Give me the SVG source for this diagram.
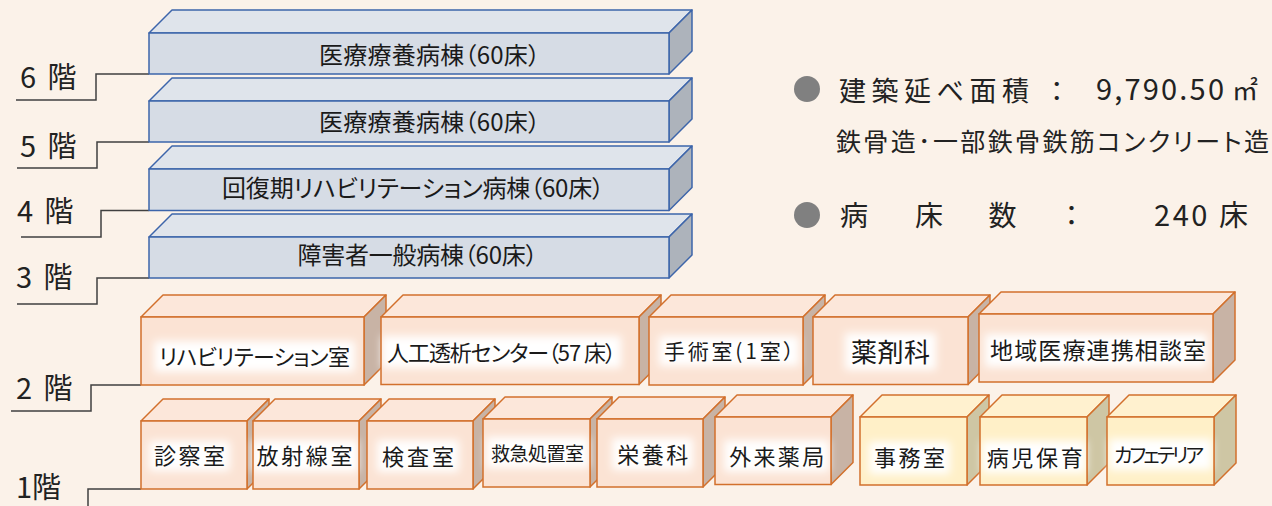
<svg xmlns="http://www.w3.org/2000/svg" width="1272" height="506" viewBox="0 0 1272 506">
<defs>
<filter id="glow" x="-40%" y="-80%" width="180%" height="260%"><feGaussianBlur stdDeviation="4"/></filter>
<style>
text{font-family:"Noto Sans CJK JP","Noto Sans",sans-serif;fill:#1a1a1a;font-feature-settings:"palt" 1;}
.lbl{text-anchor:middle;}
.bface{stroke:#3D65AA;stroke-width:1.5;stroke-linejoin:round;}
.bfront{fill:#D6DCE5;}
.btop{fill:#DFE4EB;}
.bside{fill:#ADB3BB;}
.oface{stroke:#D2702C;stroke-width:1.5;stroke-linejoin:round;}
.ofront{fill:#FBE3D4;}
.otop{fill:#FCE7DA;}
.oside{fill:#C8B3A5;}
.yfront{fill:#FFF0C8;}
.ytop{fill:#FFF1CF;}
.yside{fill:#CEC6A4;}
.outline{fill:none;stroke:#D2702C;stroke-width:1.5;}
.glow{fill:#FFFFFF;filter:url(#glow);}
.lead{fill:none;stroke:#404040;stroke-width:1.5;}
.floor{font-size:29px;fill:#222;word-spacing:5px;}
.info{fill:#222;}
.dot{fill:#808080;}
</style>
</defs>
<rect width="1272" height="506" fill="#FBF2E9"/>

<g id="connectors">
<polyline class="lead" points="16,100 96,100 96,74 149,74"/>
<polyline class="lead" points="17,168 97,168 97,142 149,142"/>
<polyline class="lead" points="21,237 101,237 101,210.5 149,210.5"/>
<polyline class="lead" points="17,304 97,304 97,278 149,278"/>
<polyline class="lead" points="11,411 91,411 91,385 141,385"/>
<polyline class="lead" points="88,510 88,489 141,489"/>
</g>

<g id="floor-labels">
<text class="floor" x="20" y="88">6 階</text>
<text class="floor" x="20" y="157">5 階</text>
<text class="floor" x="17" y="222">4 階</text>
<text class="floor" x="16" y="288">3 階</text>
<text class="floor" x="16" y="399">2 階</text>
<text class="floor" x="16" y="498">1階</text>
</g>

<g id="f6">
<polygon class="bface btop" points="149,33 172,10 692,10 669,33"/>
<polygon class="bface bside" points="669,33 692,10 692,51 669,74"/>
<rect class="bface bfront" x="149" y="33" width="520" height="41"/>
<text class="lbl" x="429.5" y="63.5" font-size="24" textLength="221">医療療養病棟（60床）</text>
</g>
<g id="f5">
<polygon class="bface btop" points="149,101 172,78 692,78 669,101"/>
<polygon class="bface bside" points="669,101 692,78 692,119 669,142"/>
<rect class="bface bfront" x="149" y="101" width="520" height="41"/>
<text class="lbl" x="429.5" y="131" font-size="24" textLength="221">医療療養病棟（60床）</text>
</g>
<g id="f4">
<polygon class="bface btop" points="149,169 172,146 692,146 669,169"/>
<polygon class="bface bside" points="669,169 692,146 692,187.5 669,210.5"/>
<rect class="bface bfront" x="149" y="169" width="520" height="41.5"/>
<text class="lbl" x="413" y="196.5" font-size="24" textLength="382">回復期リハビリテーション病棟（60床）</text>
</g>
<g id="f3">
<polygon class="bface btop" points="149,237 172,214 692,214 669,237"/>
<polygon class="bface bside" points="669,237 692,214 692,255 669,278"/>
<rect class="bface bfront" x="149" y="237" width="520" height="41"/>
<text class="lbl" x="417.5" y="263.5" font-size="24" textLength="240">障害者一般病棟（60床）</text>
</g>

<g id="rehab">
<polygon class="oface otop" points="141,317 163,295 386,295 364,317"/>
<polygon class="oface oside" points="364,317 386,295 386,363 364,385"/>
<rect class="ofront" x="141" y="317" width="223" height="68"/>
<rect class="glow" x="154" y="341" width="201" height="31"/>
<rect class="outline" x="141" y="317" width="223" height="68"/>
<text class="lbl" x="254.5" y="364.5" font-size="22" textLength="191">リハビリテーション室</text>
</g>
<g id="dialysis">
<polygon class="oface otop" points="381,317 403,295 661,295 639,317"/>
<polygon class="oface oside" points="639,317 661,295 661,362.5 639,384.5"/>
<rect class="ofront" x="381" y="317" width="258" height="67.5"/>
<rect class="glow" x="382" y="336" width="239" height="32"/>
<rect class="outline" x="381" y="317" width="258" height="67.5"/>
<text class="lbl" x="501.5" y="360.5" font-size="22" textLength="229">人工透析センター（57 床）</text>
</g>
<g id="surgery">
<polygon class="oface otop" points="649,317 671,295 825,295 803,317"/>
<polygon class="oface oside" points="803,317 825,295 825,363 803,385"/>
<rect class="ofront" x="649" y="317" width="154" height="68"/>
<rect class="glow" x="659" y="336" width="140" height="30"/>
<rect class="outline" x="649" y="317" width="154" height="68"/>
<text class="lbl" x="729" y="358.5" font-size="21" textLength="130">手術室(1室）</text>
</g>
<g id="pharmacy">
<polygon class="oface otop" points="813,317 835,295 990,295 968,317"/>
<polygon class="oface oside" points="968,317 990,295 990,362.5 968,384.5"/>
<rect class="ofront" x="813" y="317" width="155" height="67.5"/>
<rect class="glow" x="845" y="333" width="91" height="37"/>
<rect class="outline" x="813" y="317" width="155" height="67.5"/>
<text class="lbl" x="890.5" y="361.5" font-size="26" textLength="79">薬剤科</text>
</g>
<g id="community">
<polygon class="oface otop" points="979,314 1001,292 1235,292 1213,314"/>
<polygon class="oface oside" points="1213,314 1235,292 1235,360 1213,382"/>
<rect class="ofront" x="979" y="314" width="234" height="68"/>
<rect class="glow" x="985" y="334" width="222" height="33"/>
<rect class="outline" x="979" y="314" width="234" height="68"/>
<text class="lbl" x="1098" y="359" font-size="23" textLength="216">地域医療連携相談室</text>
</g>

<g id="consult">
<polygon class="oface otop" points="141,421 163,399 269,399 247,421"/>
<polygon class="oface oside" points="247,421 269,399 269,467 247,489"/>
<rect class="ofront" x="141" y="421" width="106" height="68"/>
<rect class="glow" x="149" y="441" width="81" height="30"/>
<rect class="outline" x="141" y="421" width="106" height="68"/>
<text class="lbl" x="189.5" y="463.5" font-size="22" textLength="71">診察室</text>
</g>
<g id="radiology">
<polygon class="oface otop" points="253,421 275,399 381,399 359,421"/>
<polygon class="oface oside" points="359,421 381,399 381,467 359,489"/>
<rect class="ofront" x="253" y="421" width="106" height="68"/>
<rect class="glow" x="252" y="440" width="106" height="32"/>
<rect class="outline" x="253" y="421" width="106" height="68"/>
<text class="lbl" x="304.5" y="464" font-size="22" textLength="96">放射線室</text>
</g>
<g id="lab">
<polygon class="oface otop" points="367,421 389,399 495,399 473,421"/>
<polygon class="oface oside" points="473,421 495,399 495,467 473,489"/>
<rect class="ofront" x="367" y="421" width="106" height="68"/>
<rect class="glow" x="377" y="440" width="82" height="32"/>
<rect class="outline" x="367" y="421" width="106" height="68"/>
<text class="lbl" x="418" y="464.5" font-size="22" textLength="72">検査室</text>
</g>
<g id="emergency">
<polygon class="oface otop" points="483,419 505,397 612,397 590,419"/>
<polygon class="oface oside" points="590,419 612,397 612,465 590,487"/>
<rect class="ofront" x="483" y="419" width="107" height="68"/>
<rect class="glow" x="486" y="437" width="103" height="31"/>
<rect class="outline" x="483" y="419" width="107" height="68"/>
<text class="lbl" x="537.5" y="460.5" font-size="19" textLength="93">救急処置室</text>
</g>
<g id="nutrition">
<polygon class="oface otop" points="597,419 619,397 725,397 703,419"/>
<polygon class="oface oside" points="703,419 725,397 725,465 703,487"/>
<rect class="ofront" x="597" y="419" width="106" height="68"/>
<rect class="glow" x="612" y="438" width="81" height="32"/>
<rect class="outline" x="597" y="419" width="106" height="68"/>
<text class="lbl" x="652.7" y="462.5" font-size="22" textLength="71">栄養科</text>
</g>
<g id="outpatient-pharmacy">
<polygon class="oface otop" points="715,417 737,395 853,395 831,417"/>
<polygon class="oface oside" points="831,417 853,395 853,462.5 831,484.5"/>
<rect class="ofront" x="715" y="417" width="116" height="67.5"/>
<rect class="glow" x="724" y="440" width="105" height="32"/>
<rect class="outline" x="715" y="417" width="116" height="67.5"/>
<text class="lbl" x="776.7" y="464.5" font-size="22" textLength="95">外来薬局</text>
</g>
<g id="office">
<polygon class="oface ytop" points="860,417 882,395 989,395 967,417"/>
<polygon class="oface yside" points="967,417 989,395 989,463 967,485"/>
<rect class="yfront" x="860" y="417" width="107" height="68"/>
<rect class="glow" x="869" y="442" width="81" height="32"/>
<rect class="outline" x="860" y="417" width="107" height="68"/>
<text class="lbl" x="909.5" y="466" font-size="22" textLength="71">事務室</text>
</g>
<g id="sick-child-care">
<polygon class="oface ytop" points="980,417 1002,395 1109,395 1087,417"/>
<polygon class="oface yside" points="1087,417 1109,395 1109,463 1087,485"/>
<rect class="yfront" x="980" y="417" width="107" height="68"/>
<rect class="glow" x="982" y="441" width="104" height="32"/>
<rect class="outline" x="980" y="417" width="107" height="68"/>
<text class="lbl" x="1034.7" y="466" font-size="22" textLength="96">病児保育</text>
</g>
<g id="cafeteria">
<polygon class="oface ytop" points="1107,417 1129,395 1236,395 1214,417"/>
<polygon class="oface yside" points="1214,417 1236,395 1236,463 1214,485"/>
<rect class="yfront" x="1107" y="417" width="107" height="68"/>
<rect class="glow" x="1109" y="439" width="103" height="31"/>
<rect class="outline" x="1107" y="417" width="107" height="68"/>
<text class="lbl" x="1159" y="463" font-size="20" textLength="90">カフェテリア</text>
</g>

<g id="info">
<circle class="dot" cx="807" cy="89" r="13"/>
<text class="info" x="839" y="100.5" font-size="27" textLength="190">建築延べ面積</text>
<text class="info" x="1050" y="100.5" font-size="27">：</text>
<text class="info" x="1096" y="100" font-size="29" textLength="128">9,790.50</text>
<text class="info" x="1232" y="100" font-size="26">㎡</text>
<text class="info" x="836" y="150.5" font-size="25" textLength="433">鉄骨造･一部鉄骨鉄筋コンクリート造</text>
<circle class="dot" cx="807" cy="215" r="13"/>
<text class="info" x="840" y="226" font-size="28">病</text>
<text class="info" x="915" y="226" font-size="28">床</text>
<text class="info" x="988.5" y="226" font-size="28">数</text>
<text class="info" x="1064.5" y="226" font-size="28">：</text>
<text class="info" x="1154" y="226" font-size="29" textLength="94">240 床</text>
</g>
</svg>
